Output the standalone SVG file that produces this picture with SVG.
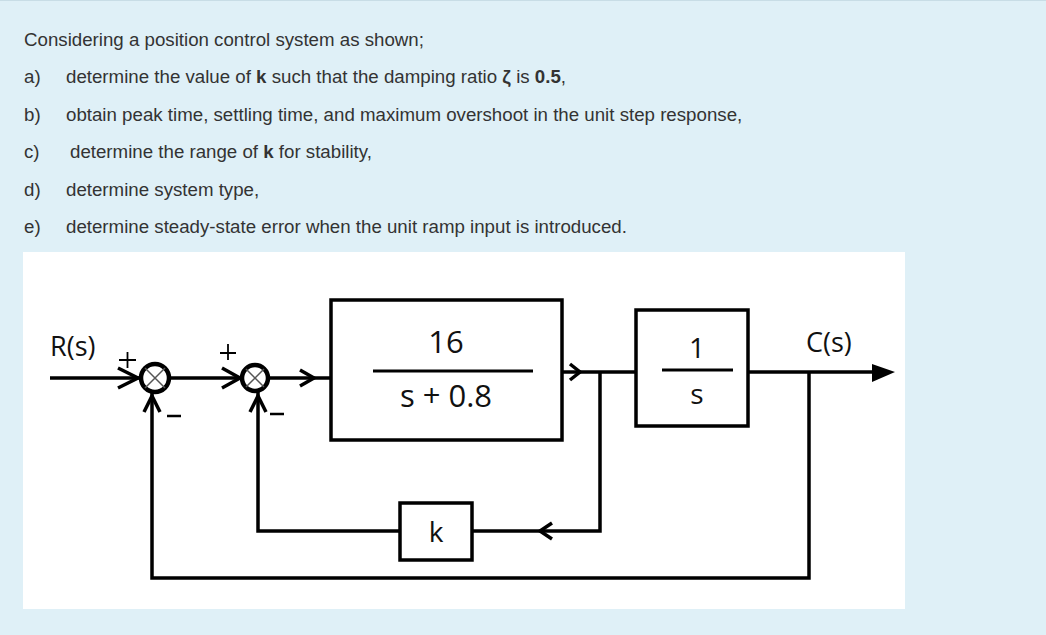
<svg xmlns="http://www.w3.org/2000/svg" width="1046" height="635" viewBox="0 0 1046 635">
<style>
.t{font-family:"Liberation Sans",Arial,sans-serif;font-size:18.7px;fill:#333}
.b{font-weight:bold}
.d{font-family:"Open Sans","DejaVu Sans",sans-serif;fill:#111}
.ln{stroke:#000;stroke-width:3.5;fill:none}
.bx{stroke:#000;stroke-width:3.5;fill:#fff}
.cr{stroke:#000;stroke-width:4.5;fill:#fff}
</style>
<rect width="1046" height="635" fill="#dff0f7"/>
<rect x="0" y="0" width="1046" height="1" fill="#c8dde6"/>
<text class="t" x="24" y="46">Considering a position control system as shown;</text>
<text class="t" x="24" y="83">a)</text><text class="t" x="66" y="83">determine the value of <tspan class="b">k</tspan> such that the damping ratio <tspan class="b">ζ</tspan> is <tspan class="b">0.5</tspan>,</text>
<text class="t" x="24" y="121">b)</text><text class="t" x="66" y="121">obtain peak time, settling time, and maximum overshoot in the unit step response,</text>
<text class="t" x="24" y="158">c)</text><text class="t" x="70" y="158">determine the range of <tspan class="b">k</tspan> for stability,</text>
<text class="t" x="24" y="196">d)</text><text class="t" x="66" y="196">determine system type,</text>
<text class="t" x="24" y="233">e)</text><text class="t" x="66" y="233">determine steady-state error when the unit ramp input is introduced.</text>
<rect x="23" y="252" width="882" height="357" fill="#fff"/>
<g id="connectors">
<path class="ln" d="M50,378 H141"/>
<path class="ln" d="M118,368 L138,378 L118,388" stroke-width="2.5"/>
<path class="ln" d="M169,378 H242"/>
<path class="ln" d="M222,368 L240,378 L222,388" stroke-width="2.5"/>
<path class="ln" d="M268,378 H331"/>
<path class="ln" d="M300,370 L314,378 L300,386" stroke-width="2.5"/>
<path class="ln" d="M562,372 H636"/>
<path class="ln" d="M570,364 L580,372 L570,380" stroke-width="2.5"/>
<path class="ln" d="M600,372 V531 H472"/>
<path class="ln" d="M552,523 L540,531 L552,539" stroke-width="2.5"/>
<path class="ln" d="M400,531 H258 V392"/>
<path class="ln" d="M250,412 L258,396 L266,412" stroke-width="2.5"/>
<path class="ln" d="M748,372 H880"/>
<path d="M872,364 L895,372 L872,382 Z" fill="#000"/>
<path class="ln" d="M809,372 V578 H152 V393"/>
<path class="ln" d="M144,412 L152,396 L160,412" stroke-width="2.5"/>
</g>
<g id="sum1"><circle cx="155" cy="378" r="14" class="cr"/><path d="M145,368 L165,388 M165,368 L145,388" stroke="#555" stroke-width="1.5"/></g>
<g id="sum2"><circle cx="255" cy="378" r="13" class="cr"/><path d="M246,369 L264,387 M264,369 L246,387" stroke="#555" stroke-width="1.5"/></g>
<g id="signs">
<path d="M119,360 H136 M127.5,352 V368 M220,353 H236 M228,344 V360" stroke="#000" stroke-width="1.8"/>
<path d="M167,416 H181 M270,414 H284" stroke="#000" stroke-width="2.5"/>
</g>
<text class="d" x="50" y="356" font-size="27">R(s)</text>
<text class="d" x="806" y="352" font-size="27">C(s)</text>
<g id="G1"><rect x="331" y="300" width="231" height="140" class="bx"/>
<text class="d" x="446" y="353" font-size="31" text-anchor="middle">16</text>
<path d="M373,371 H533" stroke="#000" stroke-width="3"/>
<text class="d" x="446" y="407" font-size="31" text-anchor="middle">s + 0.8</text></g>
<g id="G2"><rect x="636" y="310" width="112" height="116" class="bx"/>
<text class="d" x="697" y="358" font-size="28" text-anchor="middle">1</text>
<path d="M662,370 H733" stroke="#000" stroke-width="3"/>
<text class="d" x="697" y="404" font-size="28" text-anchor="middle">s</text></g>
<g id="K"><rect x="400" y="503" width="72" height="57" class="bx"/>
<text class="d" x="436" y="542" font-size="28" text-anchor="middle">k</text></g>
</svg>
